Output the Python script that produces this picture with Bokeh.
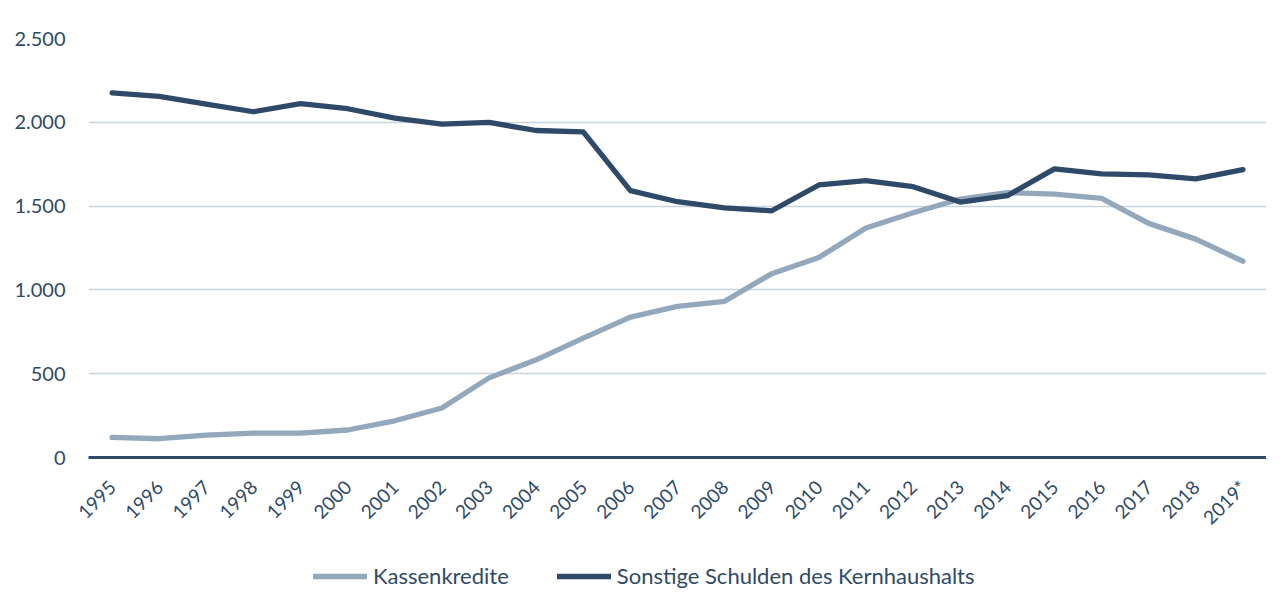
from bokeh.plotting import figure
from bokeh.layouts import column
from bokeh.models import FactorRange, Range1d, FixedTicker, Legend, LegendItem, ColumnDataSource
from bokeh.embed import file_html
from bokeh.resources import INLINE
import math

years = ["1995", "1996", "1997", "1998", "1999", "2000", "2001", "2002", "2003",
         "2004", "2005", "2006", "2007", "2008", "2009", "2010", "2011", "2012",
         "2013", "2014", "2015", "2016", "2017", "2018", "2019*"]
kassenkredite = [120, 112, 134, 146, 146, 164, 219, 295, 475, 583, 712, 838, 902,
                 932, 1097, 1193, 1369, 1460, 1542, 1580, 1572, 1546, 1397, 1303, 1171]
sonstige = [2175, 2155, 2109, 2063, 2111, 2081, 2025, 1989, 1999, 1951, 1943, 1592,
            1526, 1490, 1472, 1626, 1652, 1616, 1524, 1562, 1722, 1692, 1686, 1662, 1718]
y_ticks = [0, 500, 1000, 1500, 2000, 2500]
y_tick_labels = ["0", "500", "1.000", "1.500", "2.000", "2.500"]
series_names = ["Kassenkredite", "Sonstige Schulden des Kernhaushalts"]

DARK = "#2E4A68"
LIGHT = "#94A8BC"
GRID = "#C8D4E0"
TEXT = "#2F4A66"
FONT = "Lato"
LINE_W = 5.3

src = ColumnDataSource(dict(year=years, k=kassenkredite, s=sonstige))

# ---- main chart ----
p = figure(x_range=FactorRange(*years, range_padding=0), y_range=Range1d(0, 2500),
           frame_width=1178, frame_height=419, output_backend="svg", toolbar_location=None,
           min_border_left=88, min_border_right=0, min_border_top=38, min_border_bottom=93)
p.outline_line_color = None
p.background_fill_color = "white"
p.border_fill_color = "white"

p.line("year", "k", source=src, line_color=LIGHT, line_width=LINE_W,
       line_cap="round", line_join="round")
p.line("year", "s", source=src, line_color=DARK, line_width=LINE_W,
       line_cap="round", line_join="round")

p.xgrid.grid_line_color = None
p.ygrid.grid_line_color = GRID
p.ygrid.grid_line_width = 1.5

p.yaxis.ticker = FixedTicker(ticks=y_ticks)
p.yaxis.major_label_overrides = {t: l for t, l in zip(y_ticks, y_tick_labels)}
p.yaxis.axis_line_color = None
p.yaxis.major_tick_line_color = None
p.yaxis.minor_tick_line_color = None
p.yaxis.major_tick_out = 0
p.yaxis.major_label_standoff = 23
p.yaxis.major_label_text_font = FONT
p.yaxis.major_label_text_font_size = "20px"
p.yaxis.major_label_text_color = TEXT

p.xaxis.axis_line_color = DARK
p.xaxis.axis_line_width = 3
p.xaxis.major_tick_line_color = None
p.xaxis.minor_tick_line_color = None
p.xaxis.major_tick_out = 0
p.xaxis.major_label_orientation = math.pi / 4
p.xaxis.major_label_standoff = 26
p.xaxis.major_label_text_font = FONT
p.xaxis.major_label_text_font_size = "19px"
p.xaxis.major_label_text_color = TEXT

# ---- legend strip below the chart (frames of both plots are aligned) ----
leg = figure(frame_width=1178, height=39, x_range=Range1d(0, 1), y_range=Range1d(0, 1),
             output_backend="svg", toolbar_location=None,
             x_axis_location=None, y_axis_location=None,
             min_border_left=88, min_border_right=0, min_border_top=0, min_border_bottom=0)
leg.outline_line_color = None
leg.grid.visible = False
leg.background_fill_color = "white"
leg.border_fill_color = "white"
# key-only renderers: a single point outside the strip's range, so nothing is drawn
k_key = leg.line(x=[0], y=[-1], line_color=LIGHT, line_width=LINE_W, line_cap="round")
s_key = leg.line(x=[0], y=[-1], line_color=DARK, line_width=LINE_W, line_cap="round")

legend = Legend(items=[LegendItem(label=series_names[0], renderers=[k_key]),
                       LegendItem(label=series_names[1], renderers=[s_key])],
                orientation="horizontal", location=(225, 0),
                padding=0, margin=0, spacing=48, glyph_width=54, glyph_height=26,
                label_height=26, label_standoff=6, label_text_font=FONT,
                label_text_font_size="22px",
                label_text_color=TEXT, background_fill_alpha=0, border_line_alpha=0)
leg.add_layout(legend, "center")

layout = column(p, leg, spacing=0)
open("out.html", "w").write(file_html(layout, INLINE))
